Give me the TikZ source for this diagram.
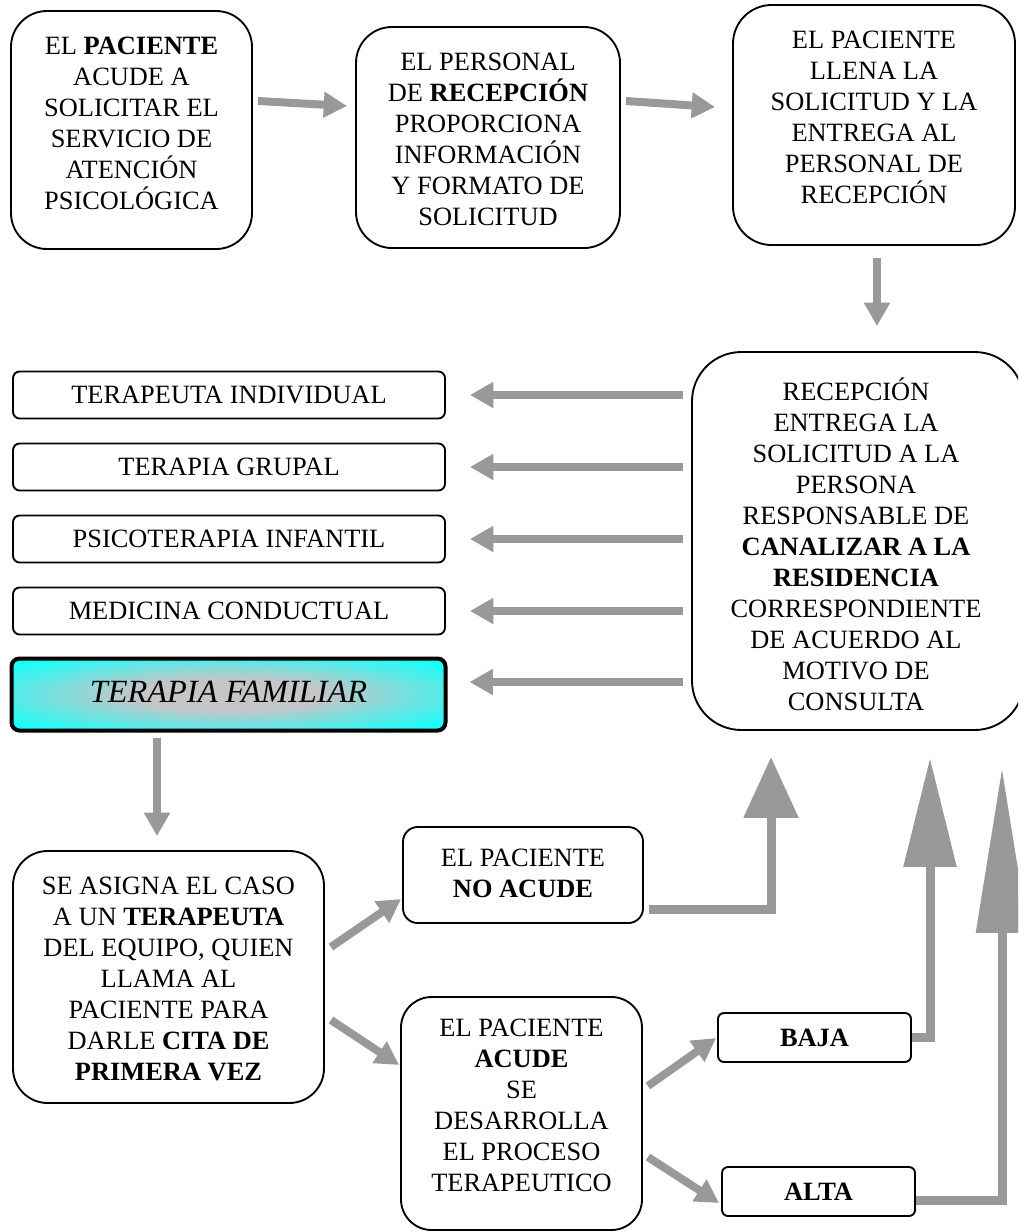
\documentclass[tikz,border=0pt]{standalone}
\usepackage{fontspec}
\setmainfont{Liberation Serif}
\usetikzlibrary{arrows.meta,calc}
\definecolor{agray}{RGB}{153,153,153}
\definecolor{tfgray}{RGB}{196,198,200}
\definecolor{tfcyan}{RGB}{24,255,250}
\pgfdeclareradialshading{tfshade}{\pgfpoint{0bp}{0bp}}{color(0bp)=(tfgray); color(11bp)=(tfgray); color(32bp)=(tfcyan); color(90bp)=(tfcyan)}
\newcommand\mytxt{\fontsize{19.8}{23.25}\selectfont}
\begin{document}
\begin{tikzpicture}[x=0.75pt,y=-0.75pt,
  box/.style={draw=black, line width=1.4pt, fill=white, inner sep=0pt},
  txt/.style={font=\mytxt, align=center, inner sep=0pt},
  garrow/.style={draw=agray, line width=6pt, -{Triangle[length=17.5pt,width=18.5pt]}},
  bigarrow/.style={draw=agray, line width=6.75pt, line join=miter}]
\useasboundingbox (0,0) rectangle (1018,1232);
\clip (0,0) rectangle (1018,1232);
% boxes
\node[box, minimum width=241*0.75pt, minimum height=238*0.75pt, rounded corners=27pt] (A) at (131.5,130) {};
\node[box, minimum width=264*0.75pt, minimum height=221*0.75pt, rounded corners=27pt] (B) at (488,137.5) {};
\node[box, minimum width=282*0.75pt, minimum height=240*0.75pt, rounded corners=29pt] (C) at (874,125) {};
\node[box, minimum width=332*0.75pt, minimum height=378*0.75pt, rounded corners=37pt] (D) at (858,541) {};
\node[box, minimum width=432*0.75pt, minimum height=47*0.75pt, rounded corners=5pt] (L1) at (229,395) {};
\node[box, minimum width=432*0.75pt, minimum height=47*0.75pt, rounded corners=5pt] (L2) at (229,467) {};
\node[box, minimum width=432*0.75pt, minimum height=47*0.75pt, rounded corners=5pt] (L3) at (229,539) {};
\node[box, minimum width=432*0.75pt, minimum height=47*0.75pt, rounded corners=5pt] (L4) at (229,611) {};
\node[draw=black, line width=3pt, shading=tfshade, inner sep=0pt, minimum width=434*0.75pt, minimum height=72*0.75pt, rounded corners=6pt] (TF) at (228.5,694.5) {};
\node[box, minimum width=311*0.75pt, minimum height=252*0.75pt, rounded corners=26pt] (E) at (168.5,977) {};
\node[box, minimum width=240*0.75pt, minimum height=96*0.75pt, rounded corners=11pt] (F) at (523,875) {};
\node[box, minimum width=241*0.75pt, minimum height=233*0.75pt, rounded corners=23pt] (G) at (521.5,1113.5) {};
\node[box, minimum width=193*0.75pt, minimum height=49*0.75pt, rounded corners=4.5pt] (BAJA) at (814.5,1037.5) {};
\node[box, minimum width=193*0.75pt, minimum height=49*0.75pt, rounded corners=4.5pt] (ALTA) at (818.5,1191.5) {};
% texts
\node[txt] (tA) at (131.5,123.5) {EL \textbf{PACIENTE}\\ACUDE A\\SOLICITAR EL\\SERVICIO DE\\ATENCIÓN\\PSICOLÓGICA};
\node[txt] (tB) at (488,139) {EL PERSONAL\\DE \textbf{RECEPCIÓN}\\PROPORCIONA\\INFORMACIÓN\\Y FORMATO DE\\SOLICITUD};
\node[txt] (tC) at (874,117) {EL PACIENTE\\LLENA LA\\SOLICITUD Y LA\\ENTREGA AL\\PERSONAL DE\\RECEPCIÓN};
\node[txt] (tD) at (856,544) {RECEPCIÓN\\ENTREGA LA\\SOLICITUD A LA\\PERSONA\\RESPONSABLE DE\\\textbf{CANALIZAR A LA}\\\textbf{RESIDENCIA}\\CORRESPONDIENTE\\DE ACUERDO AL\\MOTIVO DE\\CONSULTA};
\node[txt] (tL1) at (L1) {TERAPEUTA INDIVIDUAL};
\node[txt] (tL2) at (L2) {TERAPIA GRUPAL};
\node[txt] (tL3) at (L3) {PSICOTERAPIA INFANTIL};
\node[txt] (tL4) at (L4) {MEDICINA CONDUCTUAL};
\node[txt, font=\fontsize{24.3}{28}\selectfont\itshape] (tTF) at (228.5,692) {TERAPIA FAMILIAR};
\node[txt] (tE) at (168.5,979) {SE ASIGNA EL CASO\\A UN \textbf{TERAPEUTA}\\DEL EQUIPO, QUIEN\\LLAMA AL\\PACIENTE PARA\\DARLE \textbf{CITA DE}\\\textbf{PRIMERA VEZ}};
\node[txt] (tF) at (523,873) {EL PACIENTE\\\textbf{NO ACUDE}};
\node[txt] (tG) at (521.5,1105) {EL PACIENTE\\\textbf{ACUDE}\\SE\\DESARROLLA\\EL PROCESO\\TERAPEUTICO};
\node[txt] (tBAJA) at (BAJA) {\textbf{BAJA}};
\node[txt] (tALTA) at (ALTA) {\textbf{ALTA}};
% arrows
\draw[garrow] ($(A.east)+(5,-29)$) -- ($(B.west)+(-8,-31.5)$);
\draw[garrow] ($(B.east)+(5,-36.5)$) -- ($(C.west)+(-17,-18)$);
\draw[garrow] ($(C.south)+(3,12)$) -- ($(D.north)+(19,-25)$);
\foreach \n in {L1,L2,L3,L4}{
  \draw[garrow] ($(D.west |- \n.east)+(-8,0)$) -- ($(\n.east)+(24,0)$);
}
\draw[garrow] ($(D.west)+(-8,141)$) -- ($(TF.east)+(22,-12.5)$);
\draw[garrow] ($(TF.south)+(-71.5,5)$) -- ($(E.north)+(-11.5,-14)$);
\draw[garrow] ($(E.east)+(6,-30)$) -- ($(F.west)+(-1,24)$);
\draw[garrow] ($(E.east)+(6,43)$) -- ($(G.west)+(-1,-48.5)$);
\draw[garrow] ($(G.east)+(5,-27.5)$) -- ($(BAJA.west)+(-1,0.5)$);
\draw[garrow] ($(G.east)+(5,43.5)$) -- ($(ALTA.west)+(-2,11.5)$);
\draw[bigarrow, -{Triangle[length=45.75pt,width=39.75pt]}] ($(F.east)+(5,34)$) -| ($(D.south)+(-87,26)$);
\draw[bigarrow, -{Triangle[length=81.75pt,width=38.25pt]}] (BAJA.east) -| ($(D.south)+(72,27)$);
\draw[bigarrow, -{Triangle[length=123.75pt,width=37.5pt]}] ($(ALTA.east)+(0,8.5)$) -| ($(D.south)+(144,37)$);
\end{tikzpicture}
\end{document}
